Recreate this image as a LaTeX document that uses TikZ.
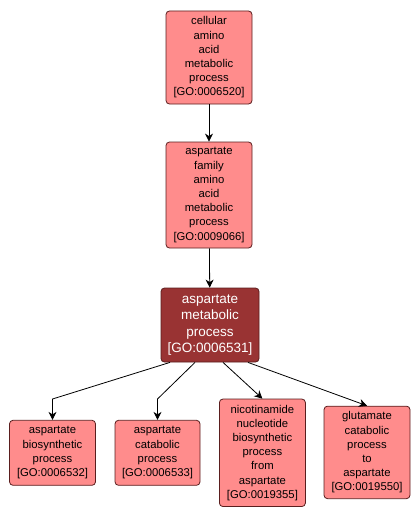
\documentclass[tikz,border=0pt]{standalone}
\usepackage{fontspec}
\setmainfont{Liberation Sans}
\usepackage{tikz}
\usetikzlibrary{arrows.meta,calc,positioning}

\definecolor{termfill}{RGB}{255,140,140}
\definecolor{focusfill}{RGB}{153,51,51}
\definecolor{termline}{RGB}{90,30,30}

\begin{document}
\begin{tikzpicture}[
    x=1pt, y=-1pt,
    >={Stealth[length=8pt,width=8pt,inset=2.5pt]},
    term/.style={
        draw=termline,
        fill=termfill,
        line width=0.8pt,
        rounded corners=3.5pt,
        inner sep=0pt,
        minimum width=86pt,
        align=center,
        font=\fontsize{11.3}{14.2}\selectfont
    },
    focus_term/.style={
        term,
        fill=focusfill,
        text=white,
        minimum width=98pt,
        font=\fontsize{13.5}{16.6}\selectfont
    },
    link/.style={->, line width=0.8pt}
]
\useasboundingbox (0,0) rectangle (420,519);

% Termini
\node[term, minimum height=93pt] (amino) at (209,57.5)
    {cellular\\amino\\acid\\metabolic\\process\\{[GO:0006520]}};
\node[term, minimum height=106pt] (family) at (209,195)
    {aspartate\\family\\amino\\acid\\metabolic\\process\\{[GO:0009066]}};
\node[focus_term, minimum height=74pt] (asp) at (210,325)
    {aspartate\\metabolic\\process\\{[GO:0006531]}};

% Figli
\node[term, minimum height=65pt] (biosyn) at (52.5,452.8)
    {aspartate\\biosynthetic\\process\\{[GO:0006532]}};
\node[term, minimum width=85pt, minimum height=65pt] (catab) at (157.5,452.8)
    {aspartate\\catabolic\\process\\{[GO:0006533]}};
\node[term, minimum height=107.5pt] (nicot) at (262.4,452.8)
    {nicotinamide\\nucleotide\\biosynthetic\\process\\from\\aspartate\\{[GO:0019355]}};
\node[term, minimum height=92.5pt] (glut) at (367,452.4)
    {glutamate\\catabolic\\process\\to\\aspartate\\{[GO:0019550]}};

% Collegamenti
\draw[link] (amino) -- (family);
\draw[link] (family) -- (asp);
\draw[link] (asp.south) ++(-40,0) -- (52.5,399) -- (biosyn.north);
\draw[link] (asp.south) ++(-15,0) -- (157.5,399) -- (catab.north);
\draw[link] (asp.south) ++(13,0) -- (nicot.north);
\draw[link] (asp.south) ++(38,0) -- (glut.north);

\end{tikzpicture}
\end{document}
